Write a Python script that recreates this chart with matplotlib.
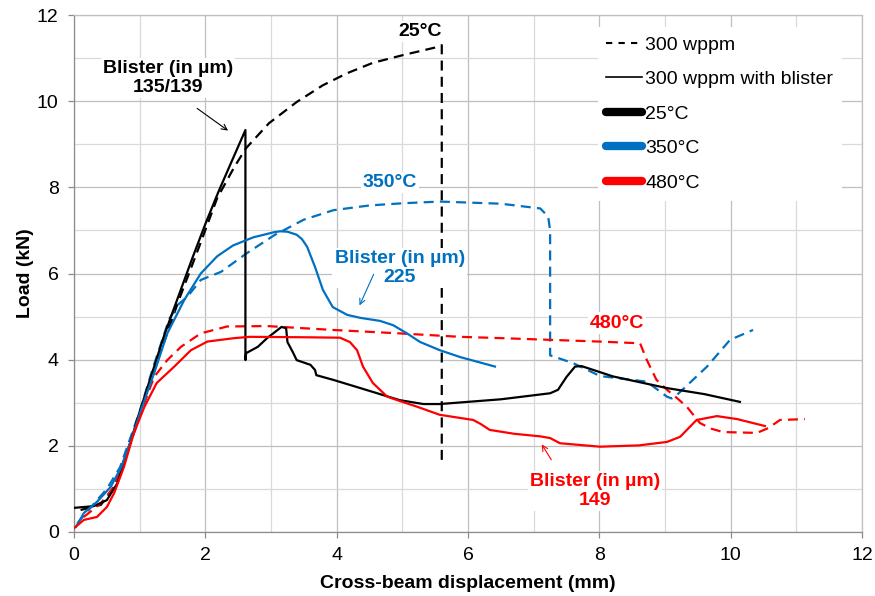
import numpy as np
import matplotlib
matplotlib.use('Agg')
import matplotlib.pyplot as plt
from matplotlib.lines import Line2D
from matplotlib.ticker import MultipleLocator

plt.rcParams['font.family'] = ['Liberation Sans', 'DejaVu Sans']

# 25 °C
x_25_dash = [0.1, 0.41, 0.61, 0.8, 1.0, 1.3, 1.6, 1.9, 2.18, 2.44, 2.62, 2.97, 3.39, 3.79, 4.16, 4.55,
             5.01, 5.54, 5.6, 5.6]
y_25_dash = [0.51, 0.63, 1.05, 1.8, 2.7, 4.1, 5.4, 6.6, 7.75, 8.47, 8.91, 9.49, 9.98, 10.37, 10.65, 10.89,
             11.07, 11.26, 11.3, 1.67]
x_25_bl = [0.0, 0.3, 0.5, 0.66, 0.81, 0.96, 1.17, 1.37, 1.57, 1.8, 2.0, 2.2, 2.4, 2.61, 2.61, 2.62,
           2.8, 2.94, 3.16, 3.23, 3.25, 3.34, 3.39, 3.6, 3.67, 3.69, 3.95, 4.36, 4.96, 5.32, 5.57, 6.5,
           7.25, 7.37, 7.5, 7.63, 7.73, 8.21, 9.03, 9.6, 10.14]
y_25_bl = [0.56, 0.6, 0.74, 1.13, 1.83, 2.6, 3.6, 4.55, 5.39, 6.35, 7.15, 7.9, 8.6, 9.33, 3.99, 4.15,
           4.3, 4.5, 4.76, 4.73, 4.41, 4.15, 3.99, 3.88, 3.76, 3.64, 3.53, 3.34, 3.06, 2.97, 2.97, 3.08,
           3.22, 3.3, 3.6, 3.84, 3.85, 3.61, 3.34, 3.2, 3.02]

# 350 °C
x_350_dash = [0.05, 0.3, 0.5, 0.7, 1.0, 1.2, 1.45, 1.6, 1.72, 1.93, 2.24, 2.63, 3.05, 3.5, 3.95, 4.5,
              5.0, 5.57, 6.5, 7.1, 7.22, 7.25, 7.25, 7.6, 8.01, 8.72, 9.03, 9.1, 9.18, 9.64, 9.99, 10.34]
y_350_dash = [0.2, 0.65, 1.0, 1.5, 2.8, 3.8, 4.95, 5.3, 5.45, 5.85, 6.04, 6.47, 6.89, 7.25, 7.47, 7.58,
              7.63, 7.67, 7.62, 7.51, 7.32, 7.0, 4.1, 3.92, 3.62, 3.49, 3.14, 3.1, 3.18, 3.84, 4.46, 4.69]
x_350_bl = [0.03, 0.15, 0.35, 0.56, 0.72, 0.87, 1.02, 1.22, 1.42, 1.68, 1.93, 2.18, 2.42, 2.73, 3.05,
            3.14, 3.25, 3.39, 3.47, 3.55, 3.67, 3.79, 3.94, 4.16, 4.36, 4.66, 4.86, 5.07, 5.27, 5.57,
            5.88, 6.41]
y_350_bl = [0.12, 0.44, 0.7, 1.05, 1.51, 2.14, 2.83, 3.69, 4.61, 5.39, 6.0, 6.4, 6.65, 6.84, 6.96,
            6.98, 6.97, 6.9, 6.8, 6.62, 6.15, 5.62, 5.22, 5.04, 4.97, 4.9, 4.8, 4.61, 4.41, 4.22, 4.06,
            3.84]

# 480 °C
x_480_dash = [0.15, 0.41, 0.61, 0.76, 0.91, 1.07, 1.22, 1.42, 1.63, 1.93, 2.33, 2.94, 3.94, 4.96, 5.88,
              6.5, 7.25, 8.0, 8.62, 8.72, 8.87, 9.03, 9.15, 9.33, 9.53, 9.7, 9.88, 10.4, 10.57, 10.75,
              11.13]
y_480_dash = [0.35, 0.67, 1.05, 1.67, 2.29, 2.99, 3.6, 3.99, 4.3, 4.61, 4.77, 4.78, 4.69, 4.61, 4.53,
              4.5, 4.46, 4.42, 4.38, 4.0, 3.53, 3.3, 3.15, 2.91, 2.53, 2.4, 2.32, 2.3, 2.41, 2.6, 2.62]
x_480_bl = [0.0, 0.15, 0.35, 0.5, 0.61, 0.76, 0.91, 1.07, 1.26, 1.52, 1.78, 2.03, 2.44, 2.68, 3.5, 4.05,
            4.2, 4.31, 4.4, 4.55, 4.77, 5.0, 5.22, 5.57, 6.08, 6.2, 6.33, 6.7, 7.1, 7.25, 7.4, 8.01, 8.6,
            9.03, 9.23, 9.48, 9.79, 10.1, 10.52]
y_480_bl = [0.09, 0.28, 0.35, 0.58, 0.9, 1.51, 2.29, 2.9, 3.46, 3.83, 4.22, 4.42, 4.5, 4.53, 4.52, 4.51,
            4.41, 4.22, 3.84, 3.46, 3.14, 3.02, 2.91, 2.72, 2.6, 2.5, 2.37, 2.28, 2.22, 2.18, 2.06, 1.98,
            2.01, 2.09, 2.21, 2.6, 2.69, 2.62, 2.46]

C_BLACK = '#000000'
C_BLUE = '#0070c0'
C_RED = '#ff0000'
DASH = (0, (4.5, 2.8))

fig = plt.figure(figsize=(8.75, 5.96), dpi=100)
ax = fig.add_axes([0.0846, 0.1074, 0.9006, 0.8674])

lw = 1.6
kw = dict(lw=lw, solid_joinstyle='round', dash_joinstyle='round')
ax.plot(x_25_dash, y_25_dash, color=C_BLACK, ls=DASH, zorder=3, **kw)
ax.plot(x_350_dash, y_350_dash, color=C_BLUE, ls=DASH, zorder=3, **kw)
ax.plot(x_480_dash, y_480_dash, color=C_RED, ls=DASH, zorder=3, **kw)
ax.plot(x_25_bl, y_25_bl, color=C_BLACK, zorder=4, **kw)
ax.plot(x_350_bl, y_350_bl, color=C_BLUE, zorder=4, **kw)
ax.plot(x_480_bl, y_480_bl, color=C_RED, zorder=4, **kw)

ax.set_xlim(0, 12); ax.set_ylim(0, 12)
ax.xaxis.set_major_locator(MultipleLocator(2)); ax.xaxis.set_minor_locator(MultipleLocator(1))
ax.yaxis.set_major_locator(MultipleLocator(2)); ax.yaxis.set_minor_locator(MultipleLocator(1))
ax.grid(which='major', color='#bfbfbf', lw=0.9, zorder=0)
ax.grid(which='minor', color='#d9d9d9', lw=0.9, zorder=0)
ax.set_axisbelow(True)
for s in ['top', 'right']:
    ax.spines[s].set_color('#bfbfbf'); ax.spines[s].set_linewidth(0.9)
for s in ['left', 'bottom']:
    ax.spines[s].set_color('#8c8c8c'); ax.spines[s].set_linewidth(0.9)
ax.tick_params(which='major', length=4, width=0.9, color='#8c8c8c', labelsize=14)
ax.tick_params(axis='x', which='major', pad=7)
ax.tick_params(axis='y', which='major', pad=7)
ax.tick_params(which='minor', length=0)
ax.set_xlabel('Cross-beam displacement (mm)', fontsize=14, fontweight='bold', labelpad=8)
ax.set_ylabel('Load (kN)', fontsize=14, fontweight='bold', labelpad=2)

box = dict(facecolor='white', edgecolor='none', pad=1.5)
tk = dict(fontsize=14, fontweight='bold', ha='center', va='center', zorder=6, bbox=box,
          linespacing=1.1)
ax.text(1.43, 10.54, 'Blister (in µm)\n135/139', color=C_BLACK, **tk)
ax.text(5.27, 11.62, '25°C', color=C_BLACK, **tk)
ax.text(4.81, 8.12, '350°C', color=C_BLUE, **tk)
ax.text(4.96, 6.13, 'Blister (in µm)\n225', color=C_BLUE, **tk)
ax.text(8.27, 4.85, '480°C', color=C_RED, **tk)
ax.text(7.93, 0.95, 'Blister (in µm)\n149', color=C_RED, **tk)

ax.annotate('', xy=(2.38, 9.28), xytext=(1.84, 9.87), zorder=7,
            arrowprops=dict(arrowstyle='->', color=C_BLACK, lw=0.8))
ax.annotate('', xy=(4.33, 5.2), xytext=(4.58, 6.04), zorder=7,
            arrowprops=dict(arrowstyle='->', color=C_BLUE, lw=0.8))
ax.annotate('', xy=(7.10, 2.09), xytext=(7.29, 1.62), zorder=7,
            arrowprops=dict(arrowstyle='->', color=C_RED, lw=0.8))

handles = [Line2D([], [], color='black', ls=(0, (3, 3)), lw=1.5),
           Line2D([], [], color='black', lw=1.2),
           Line2D([], [], color=C_BLACK, lw=6, solid_capstyle='round'),
           Line2D([], [], color=C_BLUE, lw=6, solid_capstyle='round'),
           Line2D([], [], color=C_RED, lw=6, solid_capstyle='round')]
labels = ['300 wppm', '300 wppm with blister', '25°C', '350°C', '480°C']
leg = ax.legend(handles, labels, loc='upper left', bbox_to_anchor=(0.652, 0.995), fontsize=14,
                handlelength=1.85, handletextpad=0.15, labelspacing=0.87, borderpad=0.45,
                frameon=True, fancybox=False, framealpha=1, edgecolor='none', facecolor='white')
leg.set_zorder(8)

fig.savefig('out.png', dpi=100)
